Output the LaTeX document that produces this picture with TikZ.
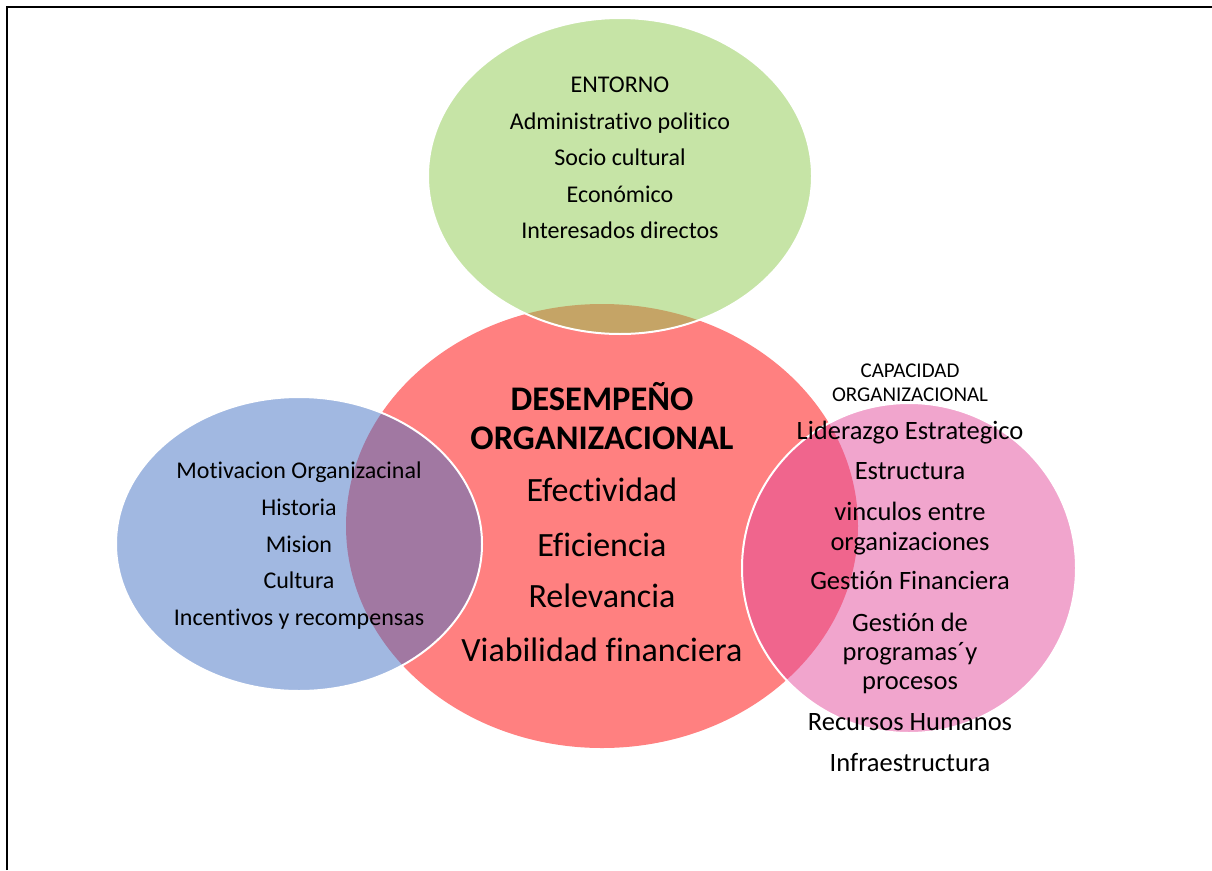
\documentclass[tikz,border=0pt]{standalone}
\usepackage[svgnames, dvipsnames, usenames]{xcolor}
\usepackage{fontspec}
\setmainfont{Carlito}[Ligatures=NoCommon]
\usepackage{tikz}

\definecolor{entornoGreen}{RGB}{141,201,77}
\definecolor{motivBlue}{RGB}{68,114,196}
\definecolor{capacPink}{RGB}{227,75,155}
\definecolor{desempRed}{RGB}{255,128,128}

\begin{document}
\begin{tikzpicture}[x=1pt, y=-1pt, thick,
  venn/.style={fill opacity=0.5, draw=white, line width=2pt},
  txt/.style={anchor=base, inner sep=0pt, font=\fontsize{#1}{#1}\selectfont},
  txt/.default=24]
\useasboundingbox (0,0) rectangle (1212,870);
%%%%% Frame %%%%%
\draw[line width=2pt] (7,870)--(7,7)--(1212,7);
%%%%% Circles %%%%%
\fill[desempRed] (602,526) ellipse [x radius=256pt, y radius=222pt];
\filldraw[venn, fill=entornoGreen] (620,176) ellipse [x radius=192pt, y radius=158pt];
\filldraw[venn, fill=motivBlue] (299,544) ellipse [x radius=183pt, y radius=147pt];
\filldraw[venn, fill=capacPink] (909,568) ellipse [x radius=167pt, y radius=165pt];
%%%%% Entorno %%%%%
\foreach \y/\t [count=\i] in {92/ENTORNO, 129/Administrativo politico, 165/Socio cultural,
  202/Económico, 238/Interesados directos}{
\node[txt] (ent\i) at (620,\y) {\t};
}
%%%%% Desempeno %%%%%
\node[txt, font=\fontsize{34.5}{34.5}\selectfont\bfseries] (des1) at (602,410) {DESEMPEÑO};
\node[txt, font=\fontsize{34.5}{34.5}\selectfont\bfseries] (des2) at (602,449) {ORGANIZACIONAL};
\foreach \y/\t [count=\i from 3] in {501/Efectividad, 556/Eficiencia, 607/Relevancia,
  661/Viabilidad financiera}{
\node[txt=34] (des\i) at (602,\y) {\t};
}
%%%%% Motivacion %%%%%
\foreach \y/\t [count=\i] in {478/Motivacion Organizacinal, 515/Historia, 552/Mision,
  588/Cultura, 625/Incentivos y recompensas}{
\node[txt] (mot\i) at (299,\y) {\t};
}
%%%%% Capacidad %%%%%
\node[txt=21] (cap1) at (910,377) {CAPACIDAD};
\node[txt=21] (cap2) at (910,401) {ORGANIZACIONAL};
\foreach \y/\t [count=\i from 3] in {439/Liderazgo Estrategico, 479/Estructura,
  520/vinculos entre, 550/organizaciones, 589/Gestión Financiera, 631/Gestión de,
  660/programas´y, 689/procesos, 730/Recursos Humanos, 771/Infraestructura}{
\node[txt=26.5] (cap\i) at (910,\y) {\t};
}

\end{tikzpicture}
\end{document}
